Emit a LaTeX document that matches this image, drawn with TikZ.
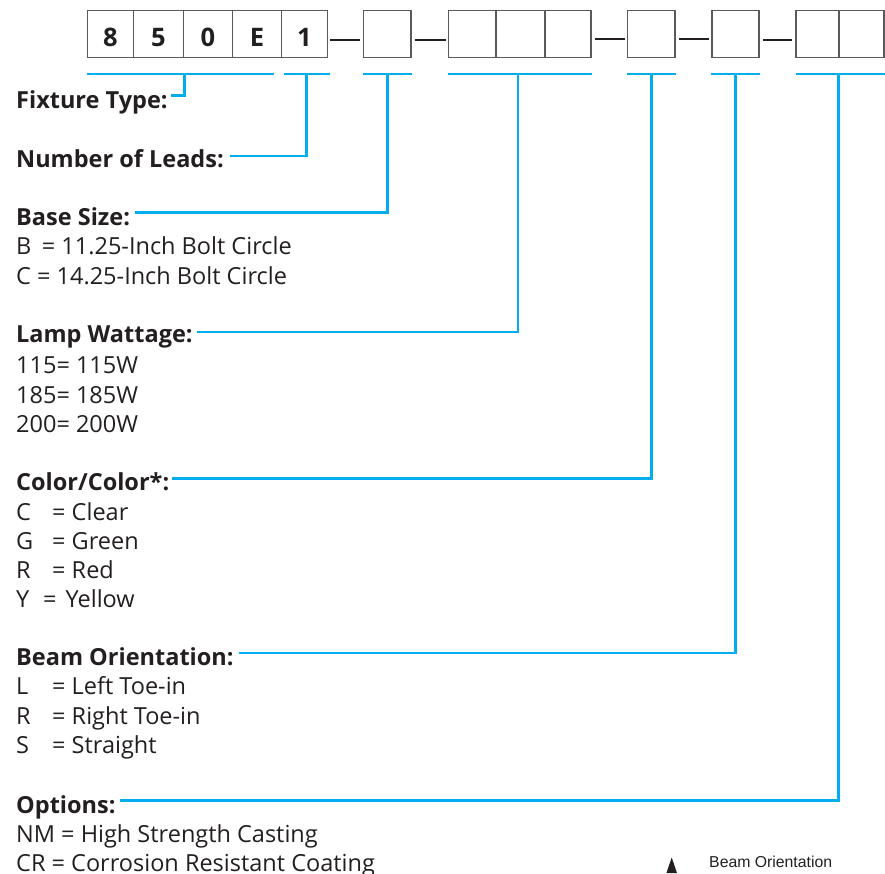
\documentclass[tikz,border=0pt]{standalone}
\usepackage{fontspec}
\setmainfont{Open Sans}
\newfontfamily\legendfont{Liberation Sans}
\usetikzlibrary{calc}
\definecolor{cyanline}{RGB}{0,174,239}
\definecolor{boxgray}{RGB}{90,90,90}
\definecolor{txt}{RGB}{35,31,32}
\begin{document}
\begin{tikzpicture}[x=1pt,y=-1pt,
  cellbox/.style={draw=boxgray, line width=1.3pt, inner sep=0pt, minimum height=47.2pt, text height=23.8pt, text depth=0pt, font=\fontsize{25.5}{26}\bfseries, text=txt},
  head/.style={anchor=base west, inner sep=0pt, font=\fontsize{23.5}{24}\bfseries, text=txt},
  item/.style={anchor=base west, inner sep=0pt, font=\fontsize{23.5}{24}\selectfont, text=txt},
  bar/.style={draw=cyanline, line width=2.6pt},
  conn/.style={draw=cyanline, line width=2.6pt},
  dashline/.style={draw=txt, line width=2pt},
]
\useasboundingbox (0,0) rectangle (885,873);

% code boxes
\node[cellbox, minimum width=46pt]   (a1) at (110.5,34.1) {8};
\node[cellbox, minimum width=49.8pt] (a2) at (158.4,34.1) {5};
\node[cellbox, minimum width=49pt]   (a3) at (207.8,34.1) {0};
\node[cellbox, minimum width=49.3pt] (a4) at (257,34.1) {E};
\node[cellbox, minimum width=45.7pt] (a5) at (304.5,34.1) {1};
\node[cellbox, minimum width=47.3pt] (b1) at (387.3,34.1) {};
\node[cellbox, minimum width=47.7pt] (c1) at (472.2,34.1) {};
\node[cellbox, minimum width=49pt]   (c2) at (520.5,34.1) {};
\node[cellbox, minimum width=46pt]   (c3) at (568,34.1) {};
\node[cellbox, minimum width=47.3pt] (d1) at (651.3,34.1) {};
\node[cellbox, minimum width=47pt]   (e1) at (735.5,34.1) {};
\node[cellbox, minimum width=43pt]   (f1) at (817.5,34.1) {};
\node[cellbox, minimum width=45pt]   (f2) at (861.5,34.1) {};

% dashes between groups
\draw[dashline] ($(a5.east)+(2,5.5)$) -- ($(b1.west)+(-3,5.5)$);
\draw[dashline] ($(b1.east)+(3.5,5.5)$) -- ($(c1.west)+(-2,5.5)$);
\draw[dashline] ($(c3.east)+(3,4.5)$) -- ($(d1.west)+(-2,4.5)$);
\draw[dashline] ($(d1.east)+(3,5.3)$) -- ($(e1.west)+(-2,5.3)$);
\draw[dashline] ($(e1.east)+(3.5,5.5)$) -- ($(f1.west)+(-3,5.5)$);

% cyan bars under the groups
\draw[bar] ($(a1.south west)+(0,15.6)$) -- ($(a5.south west)+(-7.5,15.6)$);
\draw[bar] ($(a5.south west)+(2.5,15.6)$) -- ($(a5.south east)+(1.5,15.6)$);
\draw[bar] ($(b1.south west)+(0,15.6)$) -- ($(b1.south east)+(0,15.6)$);
\draw[bar] ($(c1.south west)+(0,15.6)$) -- ($(c3.south east)+(0,15.6)$);
\draw[bar] ($(d1.south west)+(0,15.6)$) -- ($(d1.south east)+(0,15.6)$);
\draw[bar] ($(e1.south west)+(0,15.6)$) -- ($(e1.south east)+(0,15.6)$);
\draw[bar] ($(f1.south west)+(1,15.6)$) -- ($(f2.south east)+(1,15.6)$);

\coordinate (s1) at ($(a1.south west)!0.5!(a4.south east)+(0,15.6)$);
\coordinate (s2) at ($(a5.south)+(2,15.6)$);
\coordinate (s3) at ($(b1.south)+(0,15.6)$);
\coordinate (s4) at ($(c1.south west)!0.5!(c3.south east)+(-1.5,15.6)$);
\coordinate (s5) at ($(d1.south)+(0,15.6)$);
\coordinate (s6) at ($(e1.south)+(0,15.6)$);
\coordinate (s7) at ($(f1.south east)+(-1,15.6)$);

% headings and items
\node[head] (h1) at (16,108) {Fixture Type:};
\node[head] (h2) at (16,167) {Number of Leads:};
\node[head] (h3) at (16,225) {Base Size:};
\node[item] (i31) at (16,254) {\makebox[25.7pt][l]{B}= 11.25-Inch Bolt Circle};
\node[item] (i32) at (16,284) {C = 14.25-Inch Bolt Circle};
\node[head] (h4) at (16,342) {Lamp Wattage:};
\node[item] (i41) at (16,373) {115= 115W};
\node[item] (i42) at (16,403) {185= 185W};
\node[item] (i43) at (16,432) {200= 200W};
\node[head] (h5) at (16,490) {Color/Color*:};
\node[item] (i51) at (16,520) {\makebox[36pt][l]{C}= Clear};
\node[item] (i52) at (16,549) {\makebox[36pt][l]{G}= Green};
\node[item] (i53) at (16,578) {\makebox[36pt][l]{R}= Red};
\node[item] (i54) at (16,607) {\makebox[27pt][l]{Y}=\hspace{9pt}Yellow};
\node[head] (h6) at (16,665) {Beam Orientation:};
\node[item] (i61) at (16,694) {\makebox[36pt][l]{L}= Left Toe-in};
\node[item] (i62) at (16,724) {\makebox[36pt][l]{R}= Right Toe-in};
\node[item] (i63) at (16,753) {\makebox[36pt][l]{S}= Straight};
\node[head] (h7) at (16,813) {Options:};
\node[item] (i71) at (16,842) {NM = High Strength Casting};
\node[item] (i72) at (16,871) {CR = Corrosion Resistant Coating};

% connectors
\draw[conn] (s1) |- ($(h1.base east)+(3,-12.5)$);
\draw[conn] (s2) |- ($(h2.base east)+(6,-11)$);
\draw[conn] (s3) |- ($(h3.base east)+(5,-12.5)$);
\draw[conn] (s4) |- ($(h4.base east)+(4,-10)$);
\draw[conn] (s5) |- ($(h5.base east)+(3,-11.5)$);
\draw[conn] (s6) |- ($(h6.base east)+(5,-12)$);
\draw[conn] (s7) |- ($(h7.base east)+(4,-12.5)$);

% legend
\fill[txt] (671.7,857.5) -- (677,873) -- (666.4,873) -- cycle;
\node[anchor=base west, inner sep=0pt, font=\legendfont\fontsize{15.8}{16}\selectfont, text=txt] (leg) at (709,867.5) {Beam Orientation};
\end{tikzpicture}
\end{document}
